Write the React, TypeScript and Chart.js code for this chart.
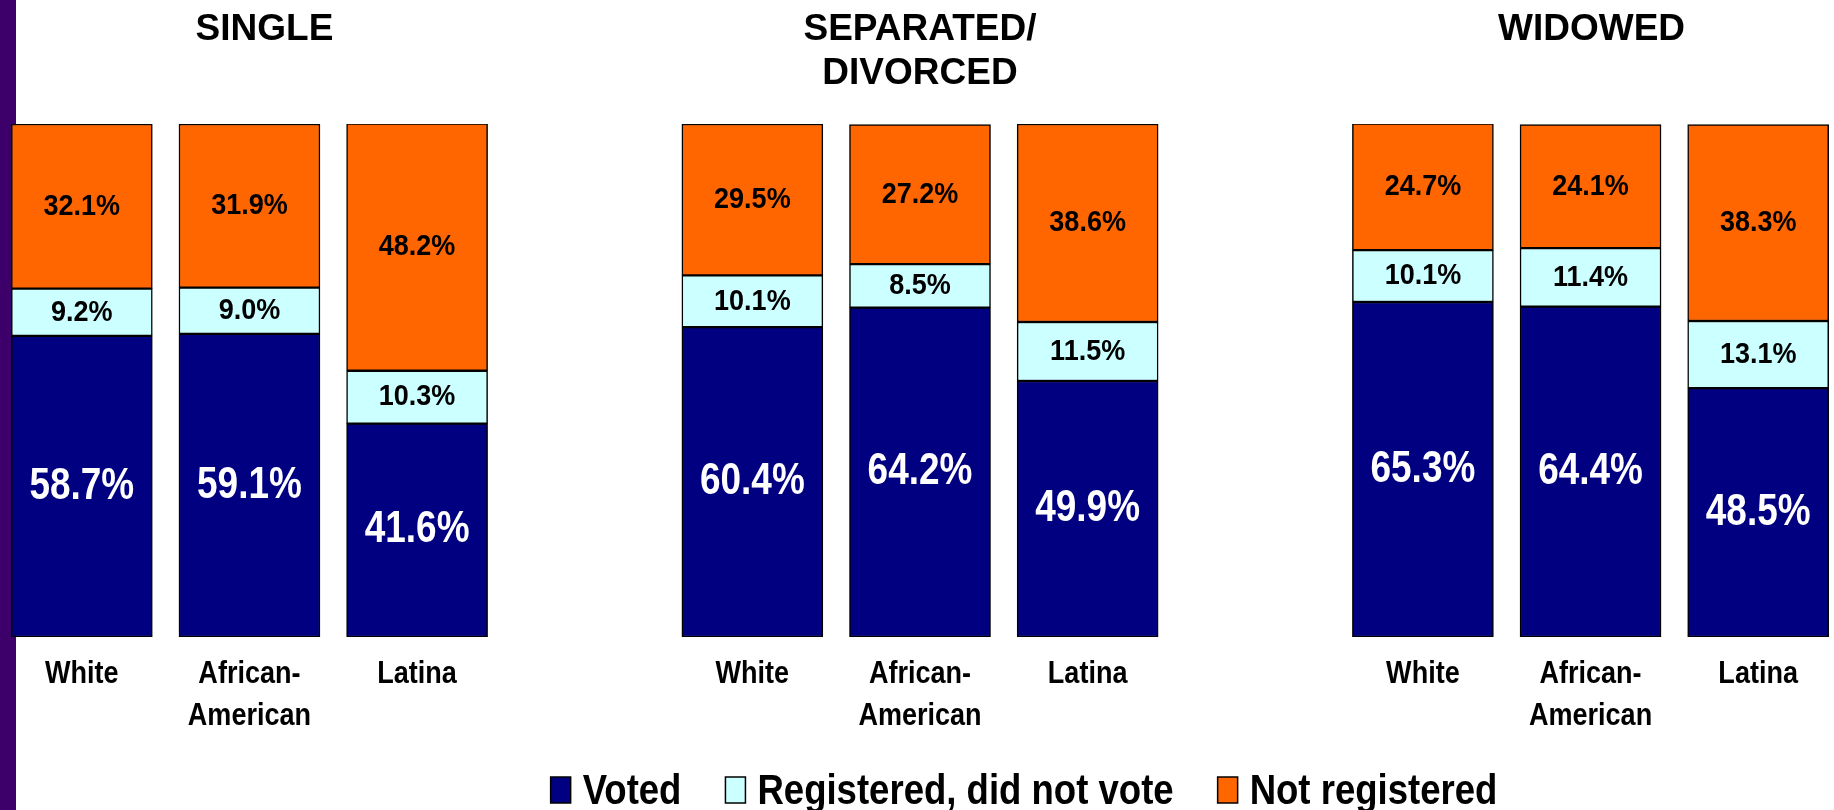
import React, { useEffect, useRef } from "react";
import { Chart, registerables } from "chart.js";

Chart.register(...registerables);

// ---- Data ----
const groupTitles: string[][] = [["SINGLE"], ["SEPARATED/", "DIVORCED"], ["WIDOWED"]];
const raceLabels: (string | string[])[] = ["White", ["African-", "American"], "Latina"];

// per group: White, African-American, Latina
const votedSingle = [58.7, 59.1, 41.6];
const votedSeparated = [60.4, 64.2, 49.9];
const votedWidowed = [65.3, 64.4, 48.5];

const regNoVoteSingle = [9.2, 9.0, 10.3];
const regNoVoteSeparated = [10.1, 8.5, 11.5];
const regNoVoteWidowed = [10.1, 11.4, 13.1];

const notRegSingle = [32.1, 31.9, 48.2];
const notRegSeparated = [29.5, 27.2, 38.6];
const notRegWidowed = [24.7, 24.1, 38.3];

const seriesNames = ["Voted", "Registered, did not vote", "Not registered"];
const seriesColors = ["#000080", "#CCFFFF", "#FF6600"];

// ---- Build slot arrays (3 bars per group, an empty slot between groups) ----
function joinGroups(groups: number[][]): (number | null)[] {
  const out: (number | null)[] = [];
  groups.forEach((g, gi) => {
    if (gi > 0) out.push(null);
    g.forEach((v) => out.push(v));
  });
  return out;
}
const labels: (string | string[])[] = [];
groupTitles.forEach((_, gi) => {
  if (gi > 0) labels.push("");
  raceLabels.forEach((r) => labels.push(r));
});
const votedData = joinGroups([votedSingle, votedSeparated, votedWidowed]);
const regData = joinGroups([regNoVoteSingle, regNoVoteSeparated, regNoVoteWidowed]);
const notRegData = joinGroups([notRegSingle, notRegSeparated, notRegWidowed]);

const FONT = '"Liberation Sans", Arial, sans-serif';

// canvas is slightly wider than the page and shifted left, so the plot spans the full width
const CANVAS_W = 1844;
const SHIFT = 2; // canvas x = page x + SHIFT

// horizontal condensing factors (the original uses a narrow bold face)
const TICK_SX = 0.845;
const LABEL_SX_DARK = 0.9;
const LABEL_SX_LIGHT = 0.84;
const LEGEND_SX = 0.87;

function narrowText(ctx: CanvasRenderingContext2D, text: string, x: number, y: number, sx: number) {
  ctx.save();
  ctx.translate(x, y);
  ctx.scale(sx, 1);
  ctx.fillText(text, 0, 0);
  ctx.restore();
}

const stripePlugin = {
  id: "stripe",
  beforeDraw(chart: any) {
    const ctx = chart.ctx;
    ctx.save();
    ctx.fillStyle = "#3d006b";
    ctx.fillRect(0, 0, 16 + SHIFT, chart.height);
    ctx.restore();
  },
};

// condense the x-axis tick labels (drawn by the axis itself)
const narrowTicksPlugin = {
  id: "narrowTicks",
  afterLayout(chart: any) {
    const xs = chart.scales.x;
    if (!xs || xs.__narrowed) return;
    const orig = xs.drawLabels;
    xs.drawLabels = function (area: any) {
      const ctx = this.ctx;
      const protoFill = CanvasRenderingContext2D.prototype.fillText;
      ctx.fillText = function (t: string, x: number, y: number) {
        this.save();
        this.translate(x, y);
        this.scale(TICK_SX, 1);
        protoFill.call(this, t, 0, 0);
        this.restore();
      };
      try {
        orig.call(this, area);
      } finally {
        delete ctx.fillText;
      }
    };
    xs.__narrowed = true;
  },
};

const valueLabelPlugin = {
  id: "valueLabels",
  afterDatasetsDraw(chart: any) {
    const ctx = chart.ctx;
    ctx.save();
    ctx.textAlign = "center";
    ctx.textBaseline = "middle";
    chart.data.datasets.forEach((ds: any, di: number) => {
      const meta = chart.getDatasetMeta(di);
      meta.data.forEach((el: any, i: number) => {
        const v = ds.data[i];
        if (v == null) return;
        const p = el.getProps(["x", "y", "base"], true);
        const cy = (p.y + p.base) / 2;
        if (di === 0) {
          ctx.font = `bold 44px ${FONT}`;
          ctx.fillStyle = "#ffffff";
          narrowText(ctx, v.toFixed(1) + "%", p.x, cy, LABEL_SX_LIGHT);
        } else {
          ctx.font = `bold 30px ${FONT}`;
          ctx.fillStyle = "#000000";
          narrowText(ctx, v.toFixed(1) + "%", p.x, cy, LABEL_SX_DARK);
        }
      });
    });
    ctx.restore();
  },
};

const groupTitlePlugin = {
  id: "groupTitles",
  afterDraw(chart: any) {
    const ctx = chart.ctx;
    const xs = chart.scales.x;
    const nudge = [15, 0, 1];
    ctx.save();
    ctx.font = `bold 37px ${FONT}`;
    ctx.fillStyle = "#000000";
    ctx.textAlign = "center";
    ctx.textBaseline = "alphabetic";
    groupTitles.forEach((lines, gi) => {
      const mid = gi * (raceLabels.length + 1) + Math.floor(raceLabels.length / 2);
      const x = xs.getPixelForValue(mid) + nudge[gi];
      lines.forEach((t, li) => {
        ctx.fillText(t, x, 40 + li * 43.5);
      });
    });
    ctx.restore();
  },
};

const legendPlugin = {
  id: "bottomLegend",
  afterDraw(chart: any) {
    const ctx = chart.ctx;
    const items = chart.data.datasets.map((d: any) => ({ label: d.label, color: d.backgroundColor }));
    const BOX_W = 20;
    const BOX_H = 26;
    const GAP_TEXT = 12;
    const GAP_ITEM = 44;
    const CENTER_X = 1024 + SHIFT;
    const CENTER_Y = 790;
    const BASELINE = 804;
    ctx.save();
    ctx.font = `bold 42px ${FONT}`;
    ctx.textAlign = "left";
    ctx.textBaseline = "alphabetic";
    const widths = items.map((it: any) => ctx.measureText(it.label).width * LEGEND_SX);
    const total =
      widths.reduce((a: number, w: number) => a + BOX_W + GAP_TEXT + w, 0) + GAP_ITEM * (items.length - 1);
    let x = CENTER_X - total / 2;
    items.forEach((it: any, i: number) => {
      ctx.fillStyle = it.color;
      ctx.fillRect(x, CENTER_Y - BOX_H / 2, BOX_W, BOX_H);
      ctx.lineWidth = 1.5;
      ctx.strokeStyle = "#000000";
      ctx.strokeRect(x, CENTER_Y - BOX_H / 2, BOX_W, BOX_H);
      ctx.fillStyle = "#000000";
      narrowText(ctx, it.label, x + BOX_W + GAP_TEXT, BASELINE, LEGEND_SX);
      x += BOX_W + GAP_TEXT + widths[i] + GAP_ITEM;
    });
    ctx.restore();
  },
};

export default function App() {
  const canvasRef = useRef<HTMLCanvasElement | null>(null);

  useEffect(() => {
    document.body.style.margin = "0";
    document.body.style.overflow = "hidden";
    const canvas = canvasRef.current;
    if (!canvas) return;
    const ds = (name: string, data: (number | null)[], color: string) => ({
      label: name,
      data,
      backgroundColor: color,
      borderColor: "#000000",
      borderWidth: 1.5,
      borderSkipped: false,
      barThickness: 141,
    });
    const chart = new Chart(canvas, {
      type: "bar",
      data: {
        labels,
        datasets: [
          ds(seriesNames[0], votedData, seriesColors[0]),
          ds(seriesNames[1], regData, seriesColors[1]),
          ds(seriesNames[2], notRegData, seriesColors[2]),
        ],
      },
      options: {
        responsive: false,
        animation: false,
        devicePixelRatio: 1,
        layout: { padding: { top: 124, left: 0, right: 0, bottom: 69 } },
        scales: {
          x: {
            stacked: true,
            offset: true,
            grid: { display: false, drawTicks: false },
            border: { display: false },
            ticks: {
              color: "#000000",
              padding: 16,
              maxRotation: 0,
              autoSkip: false,
              font: { family: FONT, size: 32, weight: "bold", lineHeight: 1.3125 },
            },
            afterFit(scale: any) {
              scale.height = 104;
            },
          },
          y: {
            stacked: true,
            display: false,
            min: 0,
            max: 100,
          },
        },
        plugins: {
          legend: { display: false },
          tooltip: { enabled: false },
          title: { display: false },
        },
      },
      plugins: [stripePlugin, narrowTicksPlugin, valueLabelPlugin, groupTitlePlugin, legendPlugin],
    } as any);
    return () => chart.destroy();
  }, []);

  return (
    <div style={{ width: 1834, height: 810, position: "relative", background: "#ffffff", overflow: "hidden" }}>
      <canvas
        ref={canvasRef}
        width={CANVAS_W}
        height={810}
        style={{ display: "block", width: CANVAS_W, height: 810, marginLeft: -SHIFT }}
      />
    </div>
  );
}
